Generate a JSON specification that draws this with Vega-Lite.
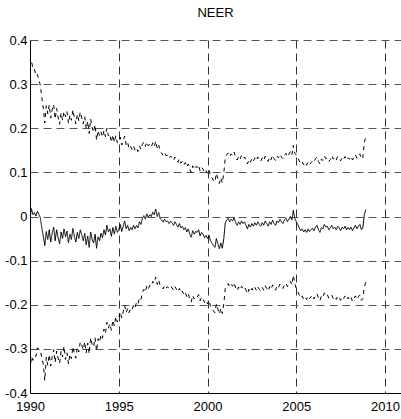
{
  "$schema": "https://vega.github.io/schema/vega-lite/v6.json",
  "width": 371,
  "height": 353,
  "autosize": "none",
  "padding": {"left": 30, "top": 40, "right": 0, "bottom": 26},
  "background": "white",
  "title": {"text": "NEER", "font": "Liberation Sans", "fontSize": 13, "fontWeight": "normal", "color": "black", "offset": 14, "anchor": "middle"},
  "config": {"view": {"stroke": null}},
  "data": {"values": [
    {"t":1990.000,"m":-0.005,"u":0.340,"l":-0.350},
    {"t":1990.083,"m":0.018,"u":0.353,"l":-0.317},
    {"t":1990.167,"m":0.004,"u":0.334,"l":-0.326},
    {"t":1990.250,"m":0.009,"u":0.334,"l":-0.316},
    {"t":1990.333,"m":0.001,"u":0.319,"l":-0.317},
    {"t":1990.417,"m":0.012,"u":0.322,"l":-0.298},
    {"t":1990.500,"m":0.005,"u":0.310,"l":-0.300},
    {"t":1990.583,"m":-0.003,"u":0.297,"l":-0.303},
    {"t":1990.667,"m":-0.026,"u":0.269,"l":-0.321},
    {"t":1990.750,"m":-0.045,"u":0.245,"l":-0.335},
    {"t":1990.833,"m":-0.066,"u":0.212,"l":-0.372},
    {"t":1990.917,"m":-0.034,"u":0.251,"l":-0.319},
    {"t":1991.000,"m":-0.052,"u":0.233,"l":-0.337},
    {"t":1991.083,"m":-0.030,"u":0.253,"l":-0.313},
    {"t":1991.167,"m":-0.058,"u":0.223,"l":-0.339},
    {"t":1991.250,"m":-0.038,"u":0.242,"l":-0.318},
    {"t":1991.333,"m":-0.024,"u":0.254,"l":-0.302},
    {"t":1991.417,"m":-0.055,"u":0.221,"l":-0.331},
    {"t":1991.500,"m":-0.030,"u":0.245,"l":-0.305},
    {"t":1991.583,"m":-0.048,"u":0.225,"l":-0.321},
    {"t":1991.667,"m":-0.062,"u":0.209,"l":-0.333},
    {"t":1991.750,"m":-0.035,"u":0.235,"l":-0.305},
    {"t":1991.833,"m":-0.050,"u":0.218,"l":-0.318},
    {"t":1991.917,"m":-0.028,"u":0.238,"l":-0.294},
    {"t":1992.000,"m":-0.046,"u":0.226,"l":-0.324},
    {"t":1992.083,"m":-0.033,"u":0.238,"l":-0.309},
    {"t":1992.167,"m":-0.060,"u":0.211,"l":-0.334},
    {"t":1992.250,"m":-0.040,"u":0.230,"l":-0.312},
    {"t":1992.333,"m":-0.052,"u":0.218,"l":-0.322},
    {"t":1992.417,"m":-0.027,"u":0.242,"l":-0.295},
    {"t":1992.500,"m":-0.045,"u":0.224,"l":-0.310},
    {"t":1992.583,"m":-0.058,"u":0.210,"l":-0.321},
    {"t":1992.667,"m":-0.036,"u":0.232,"l":-0.296},
    {"t":1992.750,"m":-0.050,"u":0.217,"l":-0.307},
    {"t":1992.833,"m":-0.030,"u":0.237,"l":-0.284},
    {"t":1992.917,"m":-0.042,"u":0.224,"l":-0.292},
    {"t":1993.000,"m":-0.055,"u":0.210,"l":-0.302},
    {"t":1993.083,"m":-0.038,"u":0.226,"l":-0.284},
    {"t":1993.167,"m":-0.064,"u":0.198,"l":-0.309},
    {"t":1993.250,"m":-0.044,"u":0.216,"l":-0.287},
    {"t":1993.333,"m":-0.070,"u":0.188,"l":-0.311},
    {"t":1993.417,"m":-0.035,"u":0.221,"l":-0.275},
    {"t":1993.500,"m":-0.052,"u":0.202,"l":-0.290},
    {"t":1993.583,"m":-0.060,"u":0.191,"l":-0.296},
    {"t":1993.667,"m":-0.040,"u":0.208,"l":-0.275},
    {"t":1993.750,"m":-0.072,"u":0.173,"l":-0.305},
    {"t":1993.833,"m":-0.046,"u":0.195,"l":-0.277},
    {"t":1993.917,"m":-0.055,"u":0.183,"l":-0.285},
    {"t":1994.000,"m":-0.038,"u":0.192,"l":-0.268},
    {"t":1994.083,"m":-0.048,"u":0.180,"l":-0.276},
    {"t":1994.167,"m":-0.030,"u":0.195,"l":-0.255},
    {"t":1994.250,"m":-0.042,"u":0.181,"l":-0.265},
    {"t":1994.333,"m":-0.020,"u":0.200,"l":-0.240},
    {"t":1994.417,"m":-0.035,"u":0.183,"l":-0.253},
    {"t":1994.500,"m":-0.028,"u":0.187,"l":-0.243},
    {"t":1994.583,"m":-0.045,"u":0.168,"l":-0.258},
    {"t":1994.667,"m":-0.025,"u":0.185,"l":-0.235},
    {"t":1994.750,"m":-0.040,"u":0.168,"l":-0.248},
    {"t":1994.833,"m":-0.022,"u":0.183,"l":-0.227},
    {"t":1994.917,"m":-0.036,"u":0.167,"l":-0.239},
    {"t":1995.000,"m":-0.030,"u":0.170,"l":-0.230},
    {"t":1995.083,"m":-0.018,"u":0.180,"l":-0.216},
    {"t":1995.167,"m":-0.034,"u":0.162,"l":-0.230},
    {"t":1995.250,"m":-0.022,"u":0.172,"l":-0.216},
    {"t":1995.333,"m":-0.010,"u":0.182,"l":-0.202},
    {"t":1995.417,"m":-0.028,"u":0.162,"l":-0.218},
    {"t":1995.500,"m":-0.020,"u":0.168,"l":-0.208},
    {"t":1995.583,"m":-0.032,"u":0.154,"l":-0.218},
    {"t":1995.667,"m":-0.025,"u":0.159,"l":-0.209},
    {"t":1995.750,"m":-0.030,"u":0.152,"l":-0.212},
    {"t":1995.833,"m":-0.020,"u":0.160,"l":-0.200},
    {"t":1995.917,"m":-0.028,"u":0.150,"l":-0.206},
    {"t":1996.000,"m":-0.020,"u":0.155,"l":-0.195},
    {"t":1996.083,"m":-0.026,"u":0.147,"l":-0.199},
    {"t":1996.167,"m":-0.012,"u":0.160,"l":-0.184},
    {"t":1996.250,"m":-0.018,"u":0.152,"l":-0.188},
    {"t":1996.333,"m":-0.004,"u":0.164,"l":-0.172},
    {"t":1996.417,"m":0.002,"u":0.169,"l":-0.165},
    {"t":1996.500,"m":-0.006,"u":0.159,"l":-0.171},
    {"t":1996.583,"m":0.006,"u":0.169,"l":-0.157},
    {"t":1996.667,"m":-0.002,"u":0.160,"l":-0.164},
    {"t":1996.750,"m":0.004,"u":0.164,"l":-0.156},
    {"t":1996.833,"m":0.000,"u":0.158,"l":-0.158},
    {"t":1996.917,"m":0.010,"u":0.167,"l":-0.147},
    {"t":1997.000,"m":0.004,"u":0.159,"l":-0.151},
    {"t":1997.083,"m":0.017,"u":0.171,"l":-0.137},
    {"t":1997.167,"m":0.000,"u":0.154,"l":-0.154},
    {"t":1997.250,"m":0.009,"u":0.162,"l":-0.144},
    {"t":1997.333,"m":-0.005,"u":0.147,"l":-0.157},
    {"t":1997.417,"m":-0.008,"u":0.144,"l":-0.160},
    {"t":1997.500,"m":-0.013,"u":0.138,"l":-0.164},
    {"t":1997.583,"m":-0.006,"u":0.144,"l":-0.156},
    {"t":1997.667,"m":-0.012,"u":0.138,"l":-0.162},
    {"t":1997.750,"m":-0.010,"u":0.139,"l":-0.159},
    {"t":1997.833,"m":-0.016,"u":0.132,"l":-0.164},
    {"t":1997.917,"m":-0.011,"u":0.137,"l":-0.159},
    {"t":1998.000,"m":-0.014,"u":0.133,"l":-0.161},
    {"t":1998.083,"m":-0.020,"u":0.127,"l":-0.167},
    {"t":1998.167,"m":-0.012,"u":0.135,"l":-0.159},
    {"t":1998.250,"m":-0.018,"u":0.129,"l":-0.165},
    {"t":1998.333,"m":-0.024,"u":0.123,"l":-0.171},
    {"t":1998.417,"m":-0.016,"u":0.131,"l":-0.163},
    {"t":1998.500,"m":-0.026,"u":0.121,"l":-0.173},
    {"t":1998.583,"m":-0.022,"u":0.125,"l":-0.169},
    {"t":1998.667,"m":-0.030,"u":0.117,"l":-0.177},
    {"t":1998.750,"m":-0.025,"u":0.122,"l":-0.172},
    {"t":1998.833,"m":-0.035,"u":0.112,"l":-0.182},
    {"t":1998.917,"m":-0.028,"u":0.119,"l":-0.175},
    {"t":1999.000,"m":-0.040,"u":0.107,"l":-0.187},
    {"t":1999.083,"m":-0.047,"u":0.100,"l":-0.194},
    {"t":1999.167,"m":-0.032,"u":0.115,"l":-0.179},
    {"t":1999.250,"m":-0.040,"u":0.107,"l":-0.187},
    {"t":1999.333,"m":-0.034,"u":0.113,"l":-0.181},
    {"t":1999.417,"m":-0.036,"u":0.111,"l":-0.183},
    {"t":1999.500,"m":-0.030,"u":0.117,"l":-0.177},
    {"t":1999.583,"m":-0.044,"u":0.103,"l":-0.191},
    {"t":1999.667,"m":-0.036,"u":0.111,"l":-0.183},
    {"t":1999.750,"m":-0.040,"u":0.107,"l":-0.187},
    {"t":1999.833,"m":-0.048,"u":0.099,"l":-0.195},
    {"t":1999.917,"m":-0.043,"u":0.104,"l":-0.190},
    {"t":2000.000,"m":-0.050,"u":0.098,"l":-0.198},
    {"t":2000.083,"m":-0.042,"u":0.106,"l":-0.190},
    {"t":2000.167,"m":-0.055,"u":0.093,"l":-0.203},
    {"t":2000.250,"m":-0.060,"u":0.088,"l":-0.208},
    {"t":2000.333,"m":-0.066,"u":0.082,"l":-0.214},
    {"t":2000.417,"m":-0.070,"u":0.078,"l":-0.218},
    {"t":2000.500,"m":-0.050,"u":0.098,"l":-0.198},
    {"t":2000.583,"m":-0.062,"u":0.086,"l":-0.210},
    {"t":2000.667,"m":-0.073,"u":0.075,"l":-0.221},
    {"t":2000.750,"m":-0.060,"u":0.088,"l":-0.208},
    {"t":2000.833,"m":-0.072,"u":0.076,"l":-0.220},
    {"t":2000.917,"m":-0.050,"u":0.098,"l":-0.198},
    {"t":2001.000,"m":-0.015,"u":0.133,"l":-0.163},
    {"t":2001.083,"m":-0.008,"u":0.140,"l":-0.156},
    {"t":2001.167,"m":-0.004,"u":0.144,"l":-0.152},
    {"t":2001.250,"m":-0.012,"u":0.136,"l":-0.160},
    {"t":2001.333,"m":-0.006,"u":0.142,"l":-0.154},
    {"t":2001.417,"m":-0.010,"u":0.138,"l":-0.158},
    {"t":2001.500,"m":-0.002,"u":0.146,"l":-0.150},
    {"t":2001.583,"m":-0.014,"u":0.134,"l":-0.162},
    {"t":2001.667,"m":-0.020,"u":0.128,"l":-0.168},
    {"t":2001.750,"m":-0.012,"u":0.136,"l":-0.160},
    {"t":2001.833,"m":-0.018,"u":0.130,"l":-0.166},
    {"t":2001.917,"m":-0.010,"u":0.138,"l":-0.158},
    {"t":2002.000,"m":-0.016,"u":0.131,"l":-0.163},
    {"t":2002.083,"m":-0.012,"u":0.135,"l":-0.159},
    {"t":2002.167,"m":-0.020,"u":0.127,"l":-0.167},
    {"t":2002.250,"m":-0.028,"u":0.119,"l":-0.175},
    {"t":2002.333,"m":-0.018,"u":0.129,"l":-0.165},
    {"t":2002.417,"m":-0.024,"u":0.123,"l":-0.171},
    {"t":2002.500,"m":-0.016,"u":0.131,"l":-0.163},
    {"t":2002.583,"m":-0.022,"u":0.125,"l":-0.169},
    {"t":2002.667,"m":-0.014,"u":0.133,"l":-0.161},
    {"t":2002.750,"m":-0.020,"u":0.127,"l":-0.167},
    {"t":2002.833,"m":-0.012,"u":0.135,"l":-0.159},
    {"t":2002.917,"m":-0.018,"u":0.129,"l":-0.165},
    {"t":2003.000,"m":-0.022,"u":0.125,"l":-0.169},
    {"t":2003.083,"m":-0.014,"u":0.133,"l":-0.161},
    {"t":2003.167,"m":-0.020,"u":0.127,"l":-0.167},
    {"t":2003.250,"m":-0.010,"u":0.137,"l":-0.157},
    {"t":2003.333,"m":-0.016,"u":0.131,"l":-0.163},
    {"t":2003.417,"m":-0.022,"u":0.125,"l":-0.169},
    {"t":2003.500,"m":-0.012,"u":0.135,"l":-0.159},
    {"t":2003.583,"m":-0.018,"u":0.129,"l":-0.165},
    {"t":2003.667,"m":-0.008,"u":0.139,"l":-0.155},
    {"t":2003.750,"m":-0.016,"u":0.131,"l":-0.163},
    {"t":2003.833,"m":-0.020,"u":0.127,"l":-0.167},
    {"t":2003.917,"m":-0.010,"u":0.137,"l":-0.157},
    {"t":2004.000,"m":-0.014,"u":0.133,"l":-0.161},
    {"t":2004.083,"m":-0.006,"u":0.141,"l":-0.153},
    {"t":2004.167,"m":-0.012,"u":0.135,"l":-0.159},
    {"t":2004.250,"m":-0.016,"u":0.131,"l":-0.163},
    {"t":2004.333,"m":-0.008,"u":0.139,"l":-0.155},
    {"t":2004.417,"m":-0.004,"u":0.143,"l":-0.151},
    {"t":2004.500,"m":-0.012,"u":0.135,"l":-0.159},
    {"t":2004.583,"m":-0.006,"u":0.141,"l":-0.153},
    {"t":2004.667,"m":0.000,"u":0.147,"l":-0.147},
    {"t":2004.750,"m":-0.008,"u":0.139,"l":-0.155},
    {"t":2004.833,"m":0.014,"u":0.161,"l":-0.133},
    {"t":2004.917,"m":-0.004,"u":0.143,"l":-0.151},
    {"t":2005.000,"m":-0.012,"u":0.140,"l":-0.164},
    {"t":2005.083,"m":-0.018,"u":0.134,"l":-0.170},
    {"t":2005.167,"m":-0.026,"u":0.126,"l":-0.178},
    {"t":2005.250,"m":-0.032,"u":0.120,"l":-0.184},
    {"t":2005.333,"m":-0.028,"u":0.124,"l":-0.180},
    {"t":2005.417,"m":-0.035,"u":0.117,"l":-0.187},
    {"t":2005.500,"m":-0.030,"u":0.122,"l":-0.182},
    {"t":2005.583,"m":-0.036,"u":0.116,"l":-0.188},
    {"t":2005.667,"m":-0.028,"u":0.124,"l":-0.180},
    {"t":2005.750,"m":-0.034,"u":0.118,"l":-0.186},
    {"t":2005.833,"m":-0.030,"u":0.122,"l":-0.182},
    {"t":2005.917,"m":-0.026,"u":0.126,"l":-0.178},
    {"t":2006.000,"m":-0.032,"u":0.123,"l":-0.187},
    {"t":2006.083,"m":-0.024,"u":0.131,"l":-0.179},
    {"t":2006.167,"m":-0.020,"u":0.135,"l":-0.175},
    {"t":2006.250,"m":-0.030,"u":0.125,"l":-0.185},
    {"t":2006.333,"m":-0.036,"u":0.119,"l":-0.191},
    {"t":2006.417,"m":-0.025,"u":0.130,"l":-0.180},
    {"t":2006.500,"m":-0.028,"u":0.127,"l":-0.183},
    {"t":2006.583,"m":-0.018,"u":0.137,"l":-0.173},
    {"t":2006.667,"m":-0.024,"u":0.131,"l":-0.179},
    {"t":2006.750,"m":-0.022,"u":0.133,"l":-0.177},
    {"t":2006.833,"m":-0.030,"u":0.125,"l":-0.185},
    {"t":2006.917,"m":-0.026,"u":0.129,"l":-0.181},
    {"t":2007.000,"m":-0.020,"u":0.138,"l":-0.178},
    {"t":2007.083,"m":-0.028,"u":0.130,"l":-0.186},
    {"t":2007.167,"m":-0.024,"u":0.134,"l":-0.182},
    {"t":2007.250,"m":-0.030,"u":0.128,"l":-0.188},
    {"t":2007.333,"m":-0.022,"u":0.136,"l":-0.180},
    {"t":2007.417,"m":-0.026,"u":0.132,"l":-0.184},
    {"t":2007.500,"m":-0.032,"u":0.126,"l":-0.190},
    {"t":2007.583,"m":-0.024,"u":0.134,"l":-0.182},
    {"t":2007.667,"m":-0.028,"u":0.130,"l":-0.186},
    {"t":2007.750,"m":-0.022,"u":0.136,"l":-0.180},
    {"t":2007.833,"m":-0.030,"u":0.128,"l":-0.188},
    {"t":2007.917,"m":-0.025,"u":0.133,"l":-0.183},
    {"t":2008.000,"m":-0.030,"u":0.130,"l":-0.190},
    {"t":2008.083,"m":-0.024,"u":0.136,"l":-0.184},
    {"t":2008.167,"m":-0.032,"u":0.128,"l":-0.192},
    {"t":2008.250,"m":-0.026,"u":0.134,"l":-0.186},
    {"t":2008.333,"m":-0.020,"u":0.140,"l":-0.180},
    {"t":2008.417,"m":-0.028,"u":0.132,"l":-0.188},
    {"t":2008.500,"m":-0.022,"u":0.138,"l":-0.182},
    {"t":2008.583,"m":-0.018,"u":0.142,"l":-0.178},
    {"t":2008.667,"m":-0.030,"u":0.130,"l":-0.190},
    {"t":2008.750,"m":-0.026,"u":0.134,"l":-0.186},
    {"t":2008.833,"m":0.004,"u":0.168,"l":-0.160},
    {"t":2008.917,"m":0.016,"u":0.181,"l":-0.149}
  ]},
  "transform": [{"fold": ["u", "l", "m"], "as": ["series", "value"]}],
  "mark": {"type": "line", "color": "black", "strokeWidth": 1, "clip": true},
  "encoding": {
    "x": {
      "field": "t", "type": "quantitative",
      "scale": {"domain": [1990, 2010.9], "nice": false, "zero": false},
      "axis": {
        "title": null, "values": [1990, 1995, 2000, 2005, 2010], "format": "d",
        "grid": true, "gridColor": "#333333", "gridDash": [8, 5], "gridWidth": 1,
        "domainColor": "black", "domainWidth": 1, "ticks": false,
        "labelFont": "Liberation Sans", "labelFontSize": 13, "labelColor": "black",
        "labelPadding": 7, "labelFlush": false, "labelOverlap": false
      }
    },
    "y": {
      "field": "value", "type": "quantitative",
      "scale": {"domain": [-0.4, 0.4], "nice": false, "zero": false},
      "axis": {
        "title": null, "values": [-0.4, -0.3, -0.2, -0.1, 0, 0.1, 0.2, 0.3, 0.4],
        "labelExpr": "datum.value == 0 ? '0' : (datum.value < 0 ? '-' + format(-datum.value, '.1f') : format(datum.value, '.1f'))",
        "grid": true, "gridColor": "#555555", "gridDash": [8, 5], "gridWidth": 1,
        "domainColor": "black", "domainWidth": 1, "ticks": false,
        "labelFont": "Liberation Sans", "labelFontSize": 13, "labelColor": "black",
        "labelPadding": 3, "labelFlush": false, "labelOverlap": false
      }
    },
    "detail": {"field": "series", "type": "nominal"},
    "strokeDash": {
      "field": "series", "type": "nominal",
      "scale": {"domain": ["m", "u", "l"], "range": [[1, 0], [4, 4], [4, 4]]},
      "legend": null
    }
  }
}
